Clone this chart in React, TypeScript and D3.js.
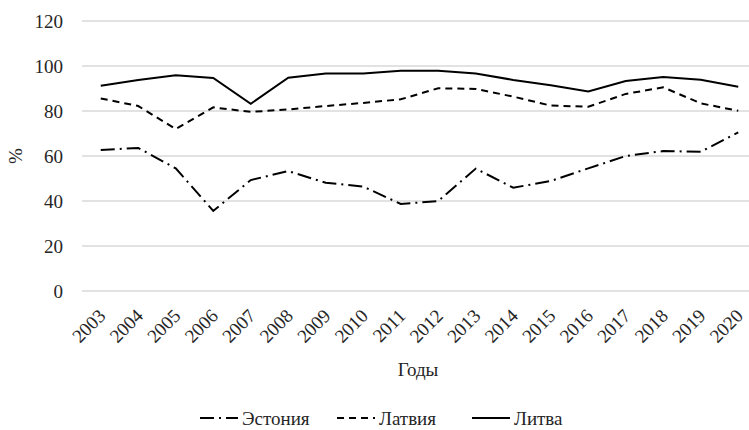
import React from 'react';
import * as d3 from 'd3';

const years = ['2003', '2004', '2005', '2006', '2007', '2008', '2009', '2010', '2011', '2012', '2013', '2014', '2015', '2016', '2017', '2018', '2019', '2020'];
const estonia = [62.7, 63.6, 54.5, 35.6, 49.3, 53.3, 48.1, 46.4, 38.7, 40.0, 54.4, 45.9, 48.9, 54.5, 60.0, 62.2, 61.9, 70.5];
const latvia = [85.6, 82.2, 72.0, 81.6, 79.6, 80.7, 82.2, 83.6, 85.2, 90.1, 89.8, 86.4, 82.4, 81.9, 87.6, 90.5, 83.4, 80.1];
const lithuania = [91.2, 93.8, 95.9, 94.7, 83.2, 94.8, 96.7, 96.7, 97.9, 97.9, 96.7, 93.8, 91.4, 88.7, 93.3, 95.1, 93.9, 90.8];
const yTicks = [0, 20, 40, 60, 80, 100, 120];

const seriesNames = ['Эстония', 'Латвия', 'Литва'];
const seriesData = [estonia, latvia, lithuania];
const dashes = ['14,5,2,5', '7,5', undefined];

const textStyle = { fontFamily: "'Liberation Serif'", fontSize: '19px', fill: '#262626' };

const left = 82, right = 757, top = 21, bottom = 291;

const x = d3.scalePoint().domain(years).range([left, right]).padding(0.5);
const y = d3.scaleLinear().domain([0, 120]).range([bottom, top]);

const line = d3.line<number>()
  .x((_, i) => x(years[i]) as number)
  .y(d => y(d));

const legendX = [200, 337, 472];
const legendY = 418;

export default function App() {
  return (
    <svg width={749} height={430} style={{ position: 'absolute', left: 0, top: 0, background: '#fff' }}>
      {yTicks.map(t => (
        <line key={'g' + t} x1={left} x2={right} y1={y(t)} y2={y(t)} stroke="#d9d9d9" strokeWidth={1.5} />
      ))}
      {yTicks.map(t => (
        <text key={'y' + t} x={63} y={y(t)} dy="0.35em" textAnchor="end" style={textStyle}>{t}</text>
      ))}
      {years.map(yr => (
        <text key={yr} transform={`translate(${(x(yr) as number) + 6},${bottom + 26}) rotate(-45)`} textAnchor="end" style={textStyle}>{yr}</text>
      ))}
      <text transform="translate(22,156) rotate(-90)" textAnchor="middle" style={textStyle}>%</text>
      <text x={418} y={376} textAnchor="middle" style={textStyle}>Годы</text>
      {seriesData.map((s, i) => (
        <path key={seriesNames[i]} d={line(s) ?? ''} fill="none" stroke="#000" strokeWidth={2} strokeDasharray={dashes[i]} />
      ))}
      {seriesNames.map((name, i) => (
        <g key={'l' + name} transform={`translate(${legendX[i]},${legendY})`}>
          <line x1={0} x2={38} y1={0} y2={0} stroke="#000" strokeWidth={2} strokeDasharray={dashes[i]} />
          <text x={42} y={0} dy="0.35em" style={textStyle}>{name}</text>
        </g>
      ))}
    </svg>
  );
}
